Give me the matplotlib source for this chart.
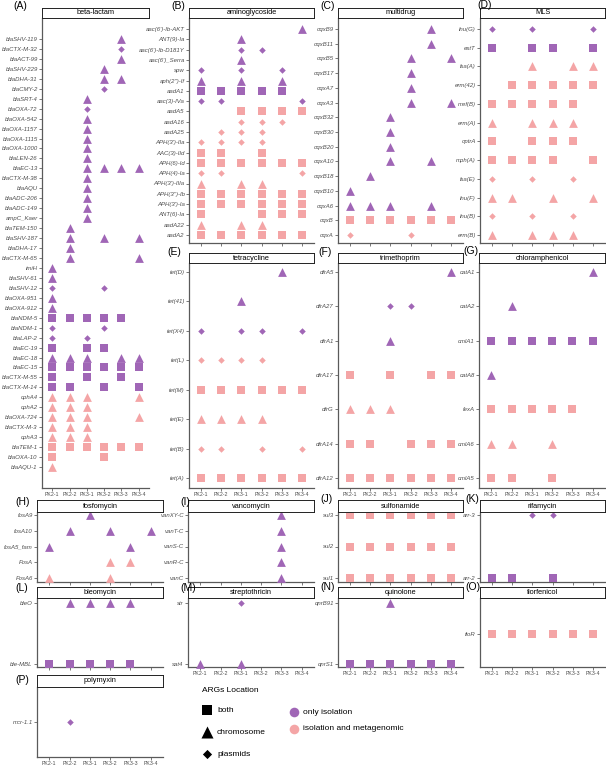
import matplotlib.pyplot as plt

plt.rcParams['font.family'] = ['Liberation Sans', 'DejaVu Sans']

W, H = 606, 766
PURPLE = "#A066B6"
PINK = "#F4A5A6"

samples = ["PK2-1", "PK2-2", "PK3-1", "PK3-2", "PK3-3", "PK3-4"]

# one string per gene, one char per sample (same order as samples)
# s = both, t = chromosome, d = plasmids
# lower case = only isolation, upper case = isolation and metagenomic, '.' = absent
beta_genes = ["blaSHV-119", "blaCTX-M-32", "blaACT-99", "blaSHV-229", "blaDHA-31", "blaCMY-2",
              "blaSRT-4", "blaOXA-72", "blaOXA-542", "blaOXA-1157", "blaOXA-1115", "blaOXA-1000",
              "blaLEN-26", "blaEC-13", "blaCTX-M-38", "blaAQU", "blaADC-206", "blaADC-149",
              "ampC_Kaer", "blaTEM-150", "blaSHV-187", "blaDHA-17", "blaCTX-M-65", "imiH",
              "blaSHV-61", "blaSHV-12", "blaOXA-951", "blaOXA-912", "blaNDM-5", "blaNDM-1",
              "blaLAP-2", "blaEC-19", "blaEC-18", "blaEC-15", "blaCTX-M-55", "blaCTX-M-14",
              "cphA4", "cphA2", "blaOXA-724", "blaCTX-M-3", "cphA3", "blaTEM-1", "blaOXA-10",
              "blaAQU-1"]
beta_hits = ["....t.", "....d.", "....t.", "...t..", "...tt.", "...d..",
             "..t...", "..d...", "..t...", "..t...", "..t...", "..t...",
             "..t...", "..tttt", "..t...", "..t...", "..t...", "..t...",
             "..t...", ".t....", ".t.t.t", ".t....", ".t...t", "t.....",
             "t.....", "d..d..", "t.....", "t.....", "sssss.", "d..d..",
             "d.d...", "s.ss..", "ttt.tt", "ssssss", "s.s.s.", "ss.s.s",
             "TTT..T", "TTT...", "TTT..T", "TTT...", "TTT...", "SSSSSS", "S..S..",
             "T....."]

amino_genes = ["aac(6')-Ib-AKT", "ANT(9)-Ia", "aac(6')-Ib-D181Y", "aac(6')_Serra", "spw",
               "aph(2'')-If", "aadA1", "aac(3)-IVa", "aadA5", "aadA16", "aadA25",
               "APH(3')-IIa", "AAC(3)-IId", "APH(6)-Id", "APH(4)-Ia", "APH(3')-IIIa",
               "APH(3'')-Ib", "APH(3')-Ia", "ANT(6)-Ia", "aadA22", "aadA2"]
amino_hits = [".....t", "..t...", "..dd..", "..t...", "d.d.d.",
              "t.t.t.", "sssss.", "dd...d", "..SSSS", "..DDD.", ".DDD..",
              "DDDD..", "SS.S..", "SSSSSS", "DD...D", "T.TT..",
              "SSSSSS", "SSSSSS", "S..SSS", "T.TT..", "SSSSSS"]

multi_genes = ["oqxB9", "oqxB11", "oqxB5", "oqxB17", "oqxA7", "oqxA3", "oqxB32", "oqxB30",
               "oqxB20", "oqxA10", "oqxB18", "oqxB10", "oqxA6", "oqxB", "oqxA"]
multi_hits = ["....t.", "....t.", "...t.t", "...t..", "...t..", "...t.t", "..t...", "..t...",
              "..t...", "..t.t.", ".t....", "t.....", "ttt.t.", "SSSSSS", "D..D.."]

mls_genes = ["lnu(G)", "estT", "lsa(A)", "erm(42)", "mef(B)", "erm(A)", "optrA", "mph(A)",
             "lsa(E)", "lnu(F)", "lnu(B)", "erm(B)"]
mls_hits = ["d.d..d", "s.ss.s", "..T.TT", ".SSSSS", "SSSSS.", "T.TTT.", "S.SSS.", "SSSS.S",
            "D.D.D.", "TT.T.T", "D.D.D.", "T.TTT."]

tet_genes = ["tet(D)", "tet(41)", "tet(X4)", "tet(L)", "tet(M)", "tet(E)", "tet(B)", "tet(A)"]
tet_hits = ["....t.", "..t...", "d.dd.d", "DDDD..", "SSSSSS", "TTTT..", "DD.D.D", "SSSSSS"]

tmp_genes = ["dfrA5", "dfrA27", "dfrA1", "dfrA17", "dfrG", "dfrA14", "dfrA12"]
tmp_hits = [".....t", "..dd..", "..t...", "S.S.SS", "TTT...", "SS.SSS", "SSSSSS"]

chl_genes = ["catA1", "catA2", "cmlA1", "catA8", "fexA", "cmlA6", "cmlA5"]
chl_hits = [".....t", ".t....", "ssssss", "t.....", "SSSSS.", "TT.T..", "SS.S.."]

fos_genes = ["fosA9", "fosA10", "fosA5_fam", "FosA", "FosA6"]
fos_hits = ["..t...", ".t.t.t", "t...t.", "...TT.", "T..T.."]

van_genes = ["vanXY-C", "vanT-C", "vanS-C", "vanR-C", "vanC"]
van_hits = ["....t.", "....t.", "....t.", "....t.", "....t."]

sul_genes = ["sul3", "sul2", "sul1"]
sul_hits = ["SSSSSS", "SSSSSS", "SSSSSS"]

rif_genes = ["arr-3", "arr-2"]
rif_hits = ["..dd..", "ss.s.."]

ble_genes = ["bleO", "ble-MBL"]
ble_hits = [".tttt.", "sssss."]

str_genes = ["str", "sat4"]
str_hits = ["..d...", "t.t..."]

qui_genes = ["qnrB91", "qnrS1"]
qui_hits = ["..t...", "ssssss"]

flo_genes = ["floR"]
flo_hits = ["SSSSSS"]

pol_genes = ["mcr-1.1"]
pol_hits = [".d...."]

markers = {"s": ("s", 26), "t": ("^", 40), "d": ("D", 11)}

fig = plt.figure(figsize=(W / 100, H / 100), dpi=100)


def px_axes(x0, x1, y0, y1):
    return fig.add_axes([x0 / W, 1 - y1 / H, (x1 - x0) / W, (y1 - y0) / H])


def panel(tag, tagxy, title, genes, hits, box, rows, xlabels):
    x0, x1, htop, atop, abot = box
    first, last = rows
    n = len(genes)
    ax = px_axes(x0, x1, atop, abot)
    step = (last - first) / (n - 1) if n > 1 else (abot - atop) / 2
    ax.set_ylim(n - 1 + (abot - last) / step, -(first - atop) / step)
    ax.set_xlim(-0.6, 5.6)

    groups = {}
    for i, row in enumerate(hits):
        for j, ch in enumerate(row):
            if ch == '.':
                continue
            key = (ch.lower(), PURPLE if ch.islower() else PINK)
            groups.setdefault(key, ([], []))
            groups[key][0].append(j)
            groups[key][1].append(i)
    for (shape, col), (xs, ys) in groups.items():
        m, s = markers[shape]
        ax.scatter(xs, ys, marker=m, s=s, c=col, linewidths=0, clip_on=False, zorder=3)

    ax.set_yticks(range(n))
    ax.set_yticklabels(genes, fontstyle='italic', fontsize=4.3, color='#4D4D4D')
    ax.set_xticks(range(len(samples)))
    ax.set_xticklabels(samples if xlabels else [], fontsize=3.8, color='#4D4D4D')
    ax.tick_params(length=2, width=0.5, color='#444444', pad=1)
    for side in ['top', 'right']:
        ax.spines[side].set_visible(False)
    for side in ['left', 'bottom']:
        ax.spines[side].set_color('#5A5A5A')
        ax.spines[side].set_linewidth(0.9)

    hax = px_axes(x0, x1, htop, atop)
    hax.set_xticks([])
    hax.set_yticks([])
    for sp in hax.spines.values():
        sp.set_linewidth(0.7)
        sp.set_color('#222222')
    hax.text(0.5, 0.5, title, ha='center', va='center', fontsize=5.3,
             transform=hax.transAxes)

    fig.text(tagxy[0] / W, 1 - tagxy[1] / H, tag, fontsize=7.5, ha='left', va='center')


# rows 1-2
panel("(A)", (13, 6), "beta-lactam", beta_genes, beta_hits, (42, 149, 8, 18, 488), (39, 467), True)
panel("(B)", (171, 6), "aminoglycoside", amino_genes, amino_hits, (189, 314, 8, 18, 243), (29, 235), False)
panel("(C)", (320, 6), "multidrug", multi_genes, multi_hits, (338, 463, 8, 18, 243), (29, 235), False)
panel("(D)", (477, 5), "MLS", mls_genes, mls_hits, (480, 605, 8, 18, 243), (29, 235), False)
panel("(E)", (167, 252), "tetracycline", tet_genes, tet_hits, (189, 314, 253, 263, 488), (272, 478), True)
panel("(F)", (318, 252), "trimethoprim", tmp_genes, tmp_hits, (338, 463, 253, 263, 488), (272, 478), True)
panel("(G)", (463, 251), "chloramphenicol", chl_genes, chl_hits, (479, 605, 253, 263, 488), (272, 478), True)

# row 3
panel("(H)", (15, 502), "fosfomycin", fos_genes, fos_hits, (37, 163, 500, 512, 582), (515, 578), False)
panel("(I)", (180, 502), "vancomycin", van_genes, van_hits, (188, 314, 500, 512, 582), (515, 578), False)
panel("(J)", (320, 499), "sulfonamide", sul_genes, sul_hits, (338, 463, 500, 512, 582), (515, 578), False)
panel("(K)", (465, 499), "rifamycin", rif_genes, rif_hits, (480, 605, 500, 512, 582), (515, 578), False)

# row 4
panel("(L)", (15, 588), "bleomycin", ble_genes, ble_hits, (37, 163, 587, 598, 667), (603, 664), False)
panel("(M)", (180, 588), "streptothricin", str_genes, str_hits, (188, 314, 587, 598, 667), (603, 664), True)
panel("(N)", (320, 587), "quinolone", qui_genes, qui_hits, (338, 463, 587, 598, 667), (603, 664), True)
panel("(O)", (465, 587), "florfenicol", flo_genes, flo_hits, (480, 605, 587, 598, 667), (634, 634), True)

# row 5
panel("(P)", (15, 680), "polymyxin", pol_genes, pol_hits, (37, 163, 675, 687, 757), (722, 722), True)

# legend
lax = fig.add_axes([0, 0, 1, 1], facecolor='none')
lax.set_xlim(0, W)
lax.set_ylim(H, 0)
lax.axis('off')
lax.text(202, 691, "ARGs Location", fontsize=6, va='center', ha='left')
loc_names = ["both", "chromosome", "plasmids"]
loc_keys = [("s", 45), ("^", 75), ("D", 22)]
for k, (name, (m, s)) in enumerate(zip(loc_names, loc_keys)):
    yy = 710 + 22 * k
    lax.scatter([207], [yy], marker=m, s=s, c='black', linewidths=0)
    lax.text(217, yy, name, fontsize=6, va='center', ha='left')
src_names = ["only isolation", "isolation and metagenomic"]
for k, (name, col) in enumerate(zip(src_names, [PURPLE, PINK])):
    yy = 712 + 17 * k
    lax.scatter([294], [yy], marker='o', s=48, c=col, linewidths=0)
    lax.text(303, yy, name, fontsize=6, va='center', ha='left')

fig.savefig("out.png", dpi=100)
